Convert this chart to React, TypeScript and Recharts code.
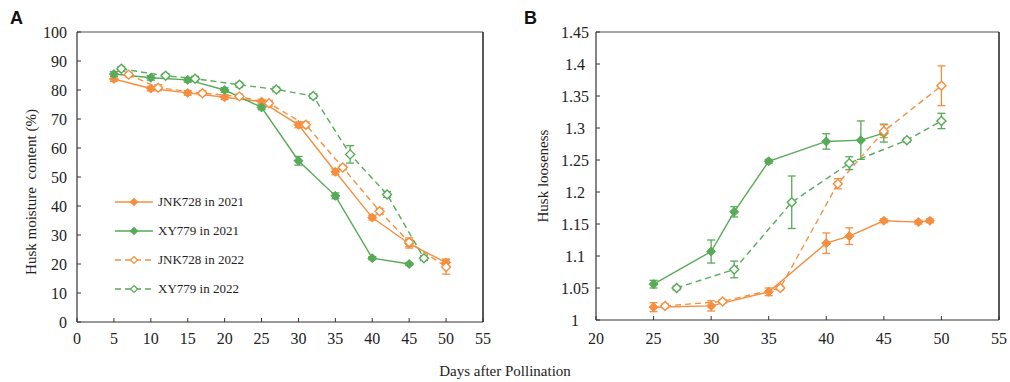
import { LineChart, Line, XAxis, YAxis, ErrorBar, ReferenceLine } from "recharts";

// Panel A: husk moisture content (%)
const daysJnk21A = [5, 10, 15, 20, 25, 30, 35, 40, 45, 50];
const moistJnk21A = [83.8, 80.5, 79, 77.5, 76, 68, 51.8, 36, 27, 20.5];
const errJnk21A = [0.8, 0.8, 0.8, 0.8, 0.8, 1, 1, 0.8, 1.5, 1.2];

const daysXy21A = [5, 10, 15, 20, 25, 30, 35, 40, 45];
const moistXy21A = [85.5, 84.2, 83.5, 80, 74, 55.6, 43.5, 22, 20];
const errXy21A = [0.8, 0.8, 0.8, 0.8, 0.8, 1.5, 1, 0.5, 0.5];

const daysJnk22A = [7, 11, 17, 22, 26, 31, 36, 41, 45, 50];
const moistJnk22A = [85.3, 80.8, 78.9, 77.8, 75.4, 68, 53.3, 38.2, 27.5, 19];
const errJnk22A = [0.8, 1, 0.8, 0.8, 1, 1, 0.8, 1, 1.5, 2.5];

const daysXy22A = [6, 12, 16, 22, 27, 32, 37, 42, 47];
const moistXy22A = [87.3, 84.9, 83.9, 81.8, 80.2, 77.9, 57.8, 44, 22];
const errXy22A = [0.8, 0.8, 0.8, 0.8, 0.8, 0.8, 3, 1, 0.8];

// Panel B: husk looseness
const daysJnk21B = [25, 30, 35, 40, 42, 45, 48, 49];
const looseJnk21B = [1.02, 1.022, 1.044, 1.12, 1.131, 1.155, 1.153, 1.155];
const errJnk21B = [0.007, 0.008, 0.006, 0.016, 0.013, 0.003, 0.003, 0.003];

const daysXy21B = [25, 30, 32, 35, 40, 43, 45];
const looseXy21B = [1.056, 1.107, 1.169, 1.248, 1.279, 1.281, 1.292];
const errXy21B = [0.006, 0.018, 0.008, 0.003, 0.012, 0.03, 0.014];

const daysJnk22B = [26, 31, 36, 41, 45, 50];
const looseJnk22B = [1.022, 1.029, 1.05, 1.213, 1.295, 1.366];
const errJnk22B = [0.003, 0.003, 0.003, 0.008, 0.01, 0.031];

const daysXy22B = [27, 32, 37, 42, 47, 50];
const looseXy22B = [1.05, 1.079, 1.184, 1.245, 1.281, 1.311];
const errXy22B = [0.003, 0.013, 0.041, 0.01, 0.003, 0.012];

const ticksXA = [0, 5, 10, 15, 20, 25, 30, 35, 40, 45, 50, 55];
const ticksYA = [0, 10, 20, 30, 40, 50, 60, 70, 80, 90, 100];
const ticksXB = [20, 25, 30, 35, 40, 45, 50, 55];
const ticksYB = [1, 1.05, 1.1, 1.15, 1.2, 1.25, 1.3, 1.35, 1.4, 1.45];

const ORANGE = "#F58F3F";
const GREEN = "#57AA57";
const FONT = "'Liberation Serif', 'Times New Roman', serif";

const toPoints = (xs: number[], ys: number[], es: number[]) =>
  xs.map((x, i) => ({ x, y: ys[i], e: es[i] }));

const seriesStyle = [
  { name: "JNK728 in 2021", color: ORANGE, dashed: false },
  { name: "XY779 in 2021", color: GREEN, dashed: false },
  { name: "JNK728 in 2022", color: ORANGE, dashed: true },
  { name: "XY779 in 2022", color: GREEN, dashed: true },
];

const makeDot = (color: string, filled: boolean, r = 4.5) => (props: any) => {
  const { cx, cy, index } = props;
  if (cx == null || cy == null) return <g key={index} />;
  const d = `M${cx},${cy - r} L${cx + r},${cy} L${cx},${cy + r} L${cx - r},${cy} Z`;
  return (
    <path
      key={index}
      d={d}
      fill={filled ? color : "#fff"}
      stroke={color}
      strokeWidth={filled ? 1 : 1.4}
    />
  );
};

// legend sits inside panel A, drawn over the chart
const LegendBox = () => (
  <div
    style={{
      position: "absolute",
      left: 113,
      top: 187,
      fontFamily: FONT,
      fontSize: 13,
      color: "#222",
      lineHeight: "29px",
    }}
  >
    {seriesStyle.map((s) => (
      <div key={s.name} style={{ display: "flex", alignItems: "center", height: 29 }}>
        <svg width={42} height={12} style={{ display: "block" }}>
          <line
            x1={2}
            y1={6}
            x2={40}
            y2={6}
            stroke={s.color}
            strokeWidth={1.5}
            strokeDasharray={s.dashed ? "6 4" : undefined}
          />
          <path
            d="M21,2.5 L24.5,6 L21,9.5 L17.5,6 Z"
            fill={s.dashed ? "#fff" : s.color}
            stroke={s.color}
            strokeWidth={1.2}
          />
        </svg>
        <span style={{ marginLeft: 3 }}>{s.name}</span>
      </div>
    ))}
  </div>
);

function Panel({
  series,
  xDomain,
  yDomain,
  xTicks,
  yTicks,
  margin,
  width,
  xTickMargin,
  yTickMargin,
  yTickAnchor,
}: any) {
  const tickStyle = { fontFamily: FONT, fontSize: 16, fill: "#222" };
  return (
    <LineChart width={width} height={382} margin={margin}>
      <XAxis
        type="number"
        dataKey="x"
        domain={xDomain}
        ticks={xTicks}
        interval={0}
        allowDataOverflow
        height={30}
        tickSize={-4}
        tickMargin={xTickMargin}
        tick={tickStyle}
        tickLine={{ stroke: "#333" }}
        axisLine={{ stroke: "#333", strokeWidth: 1.2 }}
      />
      <YAxis
        type="number"
        dataKey="y"
        domain={yDomain}
        ticks={yTicks}
        interval={0}
        allowDataOverflow
        width={40}
        tickSize={-4}
        tickMargin={yTickMargin}
        tick={{ ...tickStyle, textAnchor: yTickAnchor }}
        tickLine={{ stroke: "#333" }}
        axisLine={{ stroke: "#333", strokeWidth: 1.2 }}
      />
      <ReferenceLine y={yDomain[1]} stroke="#888" strokeWidth={1.5} />
      <ReferenceLine x={xDomain[1]} stroke="#222" strokeWidth={1.5} />
      {series.map((s: any, i: number) => {
        const st = seriesStyle[i];
        return (
          <Line
            key={st.name}
            name={st.name}
            data={s}
            dataKey="y"
            type="linear"
            stroke={st.color}
            strokeWidth={1.4}
            strokeDasharray={st.dashed ? "6 4" : undefined}
            dot={makeDot(st.color, !st.dashed)}
            activeDot={false}
            isAnimationActive={false}
          >
            <ErrorBar dataKey="e" direction="y" width={4} stroke={st.color} strokeWidth={1.3} />
          </Line>
        );
      })}
    </LineChart>
  );
}

export default function App() {
  const seriesA = [
    toPoints(daysJnk21A, moistJnk21A, errJnk21A),
    toPoints(daysXy21A, moistXy21A, errXy21A),
    toPoints(daysJnk22A, moistJnk22A, errJnk22A),
    toPoints(daysXy22A, moistXy22A, errXy22A),
  ];
  const seriesB = [
    toPoints(daysJnk21B, looseJnk21B, errJnk21B),
    toPoints(daysXy21B, looseXy21B, errXy21B),
    toPoints(daysJnk22B, looseJnk22B, errJnk22B),
    toPoints(daysXy22B, looseXy22B, errXy22B),
  ];
  return (
    <div
      style={{
        position: "fixed",
        left: 0,
        top: 0,
        width: 1010,
        height: 382,
        background: "#fff",
        overflow: "hidden",
      }}
    >
      <div style={{ position: "absolute", left: 0, top: 0 }}>
        <Panel
          series={seriesA}
          xDomain={[0, 55]}
          yDomain={[0, 100]}
          xTicks={ticksXA}
          yTicks={ticksYA}
          width={500}
          margin={{ top: 32, right: 17, bottom: 30, left: 37 }}
          xTickMargin={15}
          yTickMargin={14}
          yTickAnchor="end"
        />
      </div>
      <LegendBox />
      <div style={{ position: "absolute", left: 500, top: 0 }}>
        <Panel
          series={seriesB}
          xDomain={[20, 55]}
          yDomain={[1, 1.45]}
          xTicks={ticksXB}
          yTicks={ticksYB}
          width={510}
          margin={{ top: 32, right: 11, bottom: 32, left: 56 }}
          xTickMargin={17}
          yTickMargin={25}
          yTickAnchor="middle"
        />
      </div>
      <svg
        width={1010}
        height={382}
        style={{ position: "absolute", left: 0, top: 0, pointerEvents: "none" }}
      >
        <text x={10} y={24} fontFamily="'Liberation Sans', Arial, sans-serif" fontWeight="bold" fontSize={18} fill="#111">
          A
        </text>
        <text x={524} y={24} fontFamily="'Liberation Sans', Arial, sans-serif" fontWeight="bold" fontSize={18} fill="#111">
          B
        </text>
        <text
          x={31}
          y={192}
          transform="rotate(-90 31 192)"
          textAnchor="middle"
          dominantBaseline="central"
          fontFamily={FONT}
          fontSize={15}
          fill="#222"
          style={{ whiteSpace: "pre" }}
        >
          Husk moisture  content (%)
        </text>
        <text
          x={543}
          y={176}
          transform="rotate(-90 543 176)"
          textAnchor="middle"
          dominantBaseline="central"
          fontFamily={FONT}
          fontSize={15}
          fill="#222"
        >
          Husk looseness
        </text>
        <text x={505} y={376} textAnchor="middle" fontFamily={FONT} fontSize={15} fill="#222">
          Days after Pollination
        </text>
      </svg>
    </div>
  );
}
